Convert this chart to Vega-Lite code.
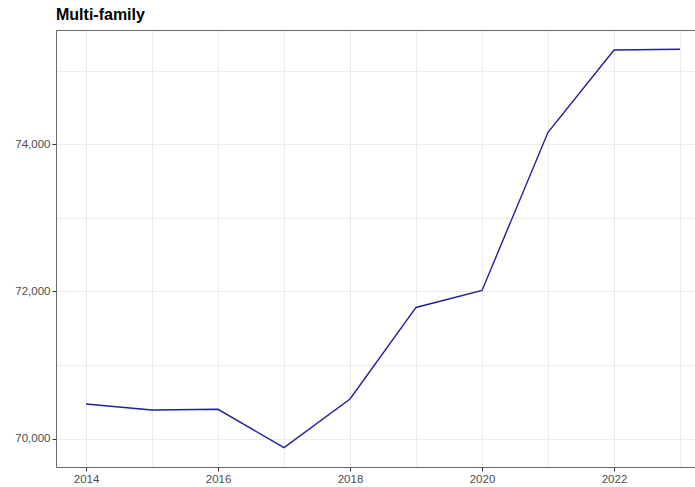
{
  "$schema": "https://vega.github.io/schema/vega-lite/v6.json",
  "width": 639,
  "height": 437,
  "autosize": "none",
  "padding": {"left": 56, "top": 30, "right": 0, "bottom": 20},
  "background": "white",
  "title": {
    "text": "Multi-family",
    "anchor": "start",
    "frame": "group",
    "font": "Liberation Sans",
    "fontSize": 16,
    "fontWeight": "bold",
    "color": "#000000",
    "offset": 7
  },
  "data": {
    "values": [
      {"year": 2014, "value": 70471},
      {"year": 2015, "value": 70390},
      {"year": 2016, "value": 70399},
      {"year": 2017, "value": 69878},
      {"year": 2018, "value": 70539},
      {"year": 2019, "value": 71783},
      {"year": 2020, "value": 72014},
      {"year": 2021, "value": 74163},
      {"year": 2022, "value": 75281},
      {"year": 2023, "value": 75291}
    ]
  },
  "layer": [
    {
      "mark": {"type": "line", "color": "#20209a", "strokeWidth": 1.4},
      "encoding": {
        "x": {
          "field": "year",
          "type": "quantitative",
          "scale": {"domain": [2013.545, 2023.227], "nice": false, "zero": false},
          "axis": {
            "title": null,
            "orient": "bottom",
            "values": [2014, 2015, 2016, 2017, 2018, 2019, 2020, 2021, 2022, 2023],
            "labelExpr": "datum.value % 2 == 0 ? datum.value : ''",
            "format": "d",
            "grid": true,
            "gridColor": "#ebebeb",
            "gridWidth": 1,
            "tickColor": {"condition": {"test": "datum.value % 2 == 0", "value": "#333333"}, "value": "transparent"},
            "tickSize": 4,
            "tickWidth": 1,
            "labelColor": "#4d4d4d",
            "labelFont": "Liberation Sans",
            "labelFontSize": 11.5,
            "labelPadding": 2,
            "domainColor": "#666666",
            "domainWidth": 1
          }
        },
        "y": {
          "field": "value",
          "type": "quantitative",
          "scale": {"domain": [69615, 75553], "nice": false, "zero": false},
          "axis": {
            "title": null,
            "values": [70000, 71000, 72000, 73000, 74000, 75000],
            "labelExpr": "datum.value % 2000 == 0 ? format(datum.value, ',') : ''",
            "grid": true,
            "gridColor": "#ebebeb",
            "gridWidth": 1,
            "tickColor": {"condition": {"test": "datum.value % 2000 == 0", "value": "#333333"}, "value": "transparent"},
            "tickSize": 4,
            "tickWidth": 1,
            "labelColor": "#4d4d4d",
            "labelFont": "Liberation Sans",
            "labelFontSize": 11.5,
            "labelPadding": 2,
            "domainColor": "#666666",
            "domainWidth": 1
          }
        }
      }
    },
    {
      "mark": {"type": "line", "opacity": 0},
      "encoding": {
        "x": {
          "field": "year",
          "type": "quantitative",
          "axis": {
            "title": null,
            "orient": "top",
            "labels": false,
            "ticks": false,
            "grid": false,
            "domainColor": "#666666",
            "domainWidth": 1
          }
        },
        "y": {"field": "value", "type": "quantitative"}
      }
    }
  ],
  "resolve": {"axis": {"x": "independent"}},
  "config": {"view": {"stroke": null}}
}
